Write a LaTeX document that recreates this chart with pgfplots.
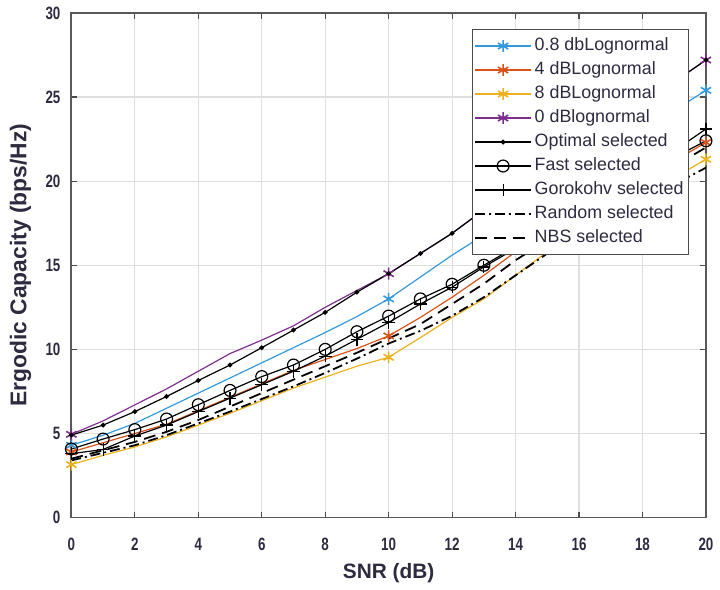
\documentclass[border=0pt]{standalone}
\usepackage{fontspec}
\setmainfont{Liberation Sans}
\newfontfamily\condensed{Liberation Sans}[FakeStretch=0.75]
\usepackage{pgfplots}
\usepackage{pgfplotstable}
\pgfplotsset{compat=1.18}
\definecolor{mblue}{rgb}{0.20,0.60,0.86}
\definecolor{morange}{rgb}{0.85,0.325,0.098}
\definecolor{myellow}{rgb}{0.929,0.694,0.125}
\definecolor{mpurple}{rgb}{0.494,0.184,0.556}
\definecolor{tickc}{rgb}{0.18,0.17,0.25}
\pgfplotstableread{
x  b     o     y     p     opt   fast  gor   rnd   nbs
0  4.30  3.90  3.15  4.95  4.90  4.08  3.80  3.40  3.50
1  4.90  4.45  3.70  5.75  5.50  4.67  4.05  3.85  4.00
2  5.60  5.00  4.20  6.70  6.30  5.23  4.85  4.30  4.50
3  6.50  5.55  4.80  7.65  7.20  5.86  5.50  4.90  5.10
4  7.40  6.35  5.50  8.70  8.15  6.71  6.30  5.60  5.80
5  8.30  7.15  6.20  9.75  9.07  7.56  7.10  6.30  6.60
6  9.20  7.95  6.95  10.55 10.10 8.38  7.90  7.05  7.40
7  10.10 8.75  7.70  11.40 11.15 9.07  8.70  7.80  8.20
8  11.00 9.40  8.35  12.50 12.20 10.00 9.60  8.60  9.00
9  11.95 10.05 9.00  13.50 13.40 11.05 10.60 9.45  9.80
10 13.00 10.80 9.53  14.50 14.50 11.98 11.60 10.35 10.65
11 14.30 11.90 10.70 15.70 15.70 13.00 12.70 11.10 11.50
12 15.60 13.10 11.90 16.90 16.90 13.87 13.70 12.00 12.70
13 16.80 14.40 13.00 18.30 18.30 15.00 14.90 13.10 13.90
14 18.10 15.80 14.40 19.60 19.60 16.10 16.00 14.40 15.30
15 19.30 16.90 15.80 20.90 20.90 17.20 17.10 15.70 16.50
16 20.50 18.00 17.00 22.10 22.10 18.30 18.30 16.80 17.60
17 21.70 19.10 18.00 23.30 23.30 19.30 19.40 17.80 18.70
18 22.90 20.10 19.10 24.60 24.60 20.30 20.60 18.80 19.80
19 24.20 21.20 20.20 25.90 25.90 21.40 21.80 19.80 20.90
20 25.40 22.30 21.30 27.20 27.20 22.40 23.10 20.80 22.00
}\datatable
\begin{document}
\begin{tikzpicture}
\begin{axis}[
  name=ax,
  scale only axis,
  width=320pt, height=254.5pt,
  xmin=0, xmax=20, ymin=0, ymax=30,
  xtick={0,2,...,20}, ytick={0,5,...,30},
  grid=major,
  major grid style={gray!25, line width=0.6pt},
  axis line style={black!65, line width=0.9pt},
  tick style={black!70, line width=0.6pt},
  tick align=inside,
  major tick length=3pt,
  /pgf/number format/assume math mode=true,
  ticklabel style={font=\condensed\bfseries\fontsize{9}{10}\selectfont, text=tickc},
  xticklabel style={yshift=-7pt},
  yticklabel style={xshift=-2pt},
  xlabel={SNR (dB)},
  ylabel={Ergodic Capacity (bps/Hz)},
  xlabel style={font=\bfseries\fontsize{10.5}{12}\selectfont, text=tickc, at={(axis description cs:0.5,-0.11)}, anchor=center},
  ylabel style={font=\bfseries\fontsize{11.5}{13}\selectfont, text=tickc, at={(axis description cs:-0.08,0.5)}, anchor=center},
  legend cell align=left,
  legend image code/.code={\draw[mark repeat=2,mark phase=2] plot coordinates {(0pt,0pt) (14pt,0pt) (28pt,0pt)};},
  legend style={
    at={(rel axis cs:1,1)}, anchor=north east, xshift=-8.5pt, yshift=-8pt,
    draw=black!70, line width=0.6pt, fill=white,
    font=\fontsize{9}{10}\selectfont, text=tickc,
    inner xsep=1pt, inner ysep=4pt,
    nodes={inner ysep=0pt, inner xsep=1.5pt, text height=6.8pt, text depth=2pt},
    row sep=3.3pt,
    /tikz/every even column/.append style={column sep=0pt},
  },
  every axis plot/.append style={line width=0.6pt},
]
\addplot[mblue, mark=asterisk, mark size=3pt, mark repeat=10, mark options={line width=0.8pt}] table[x=x,y=b]{\datatable};
\addlegendentry{0.8 dbLognormal}
\addplot[morange, mark=asterisk, mark size=3pt, mark repeat=10, mark options={line width=0.8pt}] table[x=x,y=o]{\datatable};
\addlegendentry{4 dBLognormal}
\addplot[myellow, mark=asterisk, mark size=3pt, mark repeat=10, mark options={line width=0.8pt}] table[x=x,y=y]{\datatable};
\addlegendentry{8 dBLognormal}
\addplot[mpurple, mark=asterisk, mark size=3pt, mark repeat=10, mark options={line width=0.8pt}] table[x=x,y=p]{\datatable};
\addlegendentry{0 dBlognormal}
\addplot[black, mark=*, mark size=0.9pt] table[x=x,y=opt]{\datatable};
\addlegendentry{Optimal selected}
\addplot[black, mark=o, mark size=3pt] table[x=x,y=fast]{\datatable};
\addlegendentry{Fast selected}
\addplot[black, mark=+, mark size=3.2pt] table[x=x,y=gor]{\datatable};
\addlegendentry{Gorokohv selected}
\addplot[black, line width=0.9pt, dash pattern=on 5pt off 2pt on 1pt off 2pt] table[x=x,y=rnd]{\datatable};
\addlegendentry{Random selected}
\addplot[black, line width=0.9pt, dash pattern=on 6pt off 3.5pt] table[x=x,y=nbs]{\datatable};
\addlegendentry{NBS selected}
\end{axis}
\path ([xshift=-36pt,yshift=-33.5pt]ax.south west) rectangle ([xshift=4pt,yshift=6pt]ax.north east);
\end{tikzpicture}
\end{document}
